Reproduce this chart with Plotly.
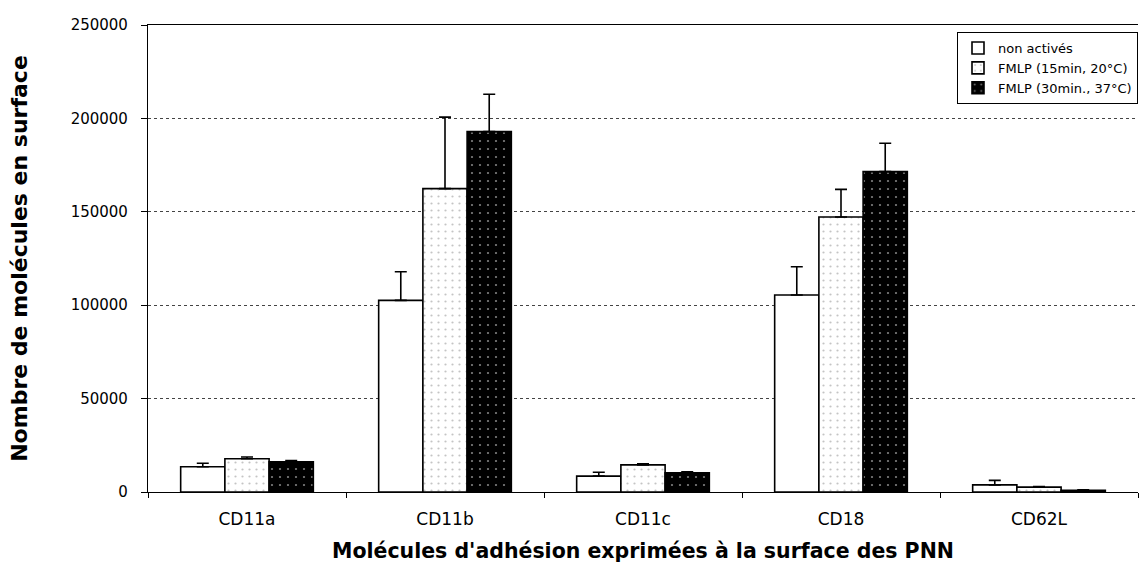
import plotly.graph_objects as go

# Adhesion molecules measured on the PNN surface
categories = ["CD11a", "CD11b", "CD11c", "CD18", "CD62L"]

series_names = ["non activés", "FMLP (15min, 20°C)", "FMLP (30min., 37°C)"]

non_actives = [13500, 102600, 8500, 105500, 3800]
non_actives_err = [1900, 15300, 2100, 15100, 2400]

fmlp_15 = [17800, 162400, 14500, 147200, 2600]
fmlp_15_err = [900, 38300, 600, 14800, 300]

fmlp_30 = [16200, 192900, 10300, 171500, 900]
fmlp_30_err = [600, 20000, 500, 15200, 300]

y_ticks = [0, 50000, 100000, 150000, 200000, 250000]

FONT = "DejaVu Sans"


def err(values):
    return dict(type="data", symmetric=False, array=values,
                arrayminus=[0] * len(values), color="black",
                thickness=1.6, width=6)


fig = go.Figure()

fig.add_trace(go.Bar(
    name=series_names[0], x=categories, y=non_actives,
    marker=dict(color="white", line=dict(color="black", width=1.6)),
    error_y=err(non_actives_err),
))

fig.add_trace(go.Bar(
    name=series_names[1], x=categories, y=fmlp_15,
    marker=dict(color="white", line=dict(color="black", width=1.6),
                pattern=dict(shape=".", fgcolor="#8a8a8a", bgcolor="white",
                             size=7, solidity=0.08)),
    error_y=err(fmlp_15_err),
))

fig.add_trace(go.Bar(
    name=series_names[2], x=categories, y=fmlp_30,
    marker=dict(color="black", line=dict(color="black", width=1.6),
                pattern=dict(shape=".", fgcolor="white", bgcolor="black",
                             size=8, solidity=0.06)),
    error_y=err(fmlp_30_err),
))

fig.update_layout(
    width=1140, height=563,
    margin=dict(l=148, r=2, t=25, b=71),
    paper_bgcolor="white", plot_bgcolor="white",
    barmode="group", bargap=0.33, bargroupgap=0,
    font=dict(family=FONT, size=14, color="black"),
    showlegend=True,
    legend=dict(
        x=1.0, y=0.985, xanchor="right", yanchor="top",
        bgcolor="white", bordercolor="black", borderwidth=1,
        font=dict(family=FONT, size=13, color="black"),
        itemwidth=30, tracegroupgap=0,
    ),
    xaxis=dict(
        showline=True, linecolor="black", linewidth=1.2, mirror=True,
        ticks="outside", tickson="boundaries", ticklen=5,
        tickcolor="black", tickwidth=1,
        tickfont=dict(family=FONT, size=17, color="black"),
        ticklabelstandoff=11,
        showgrid=False, automargin=False,
        title=dict(text="Molécules d'adhésion exprimées à la surface des PNN",
                   font=dict(family=FONT, size=20.5, color="black",
                             weight="bold"),
                   standoff=16),
    ),
    yaxis=dict(
        range=[0, 250000], tickvals=y_ticks, tickformat="d",
        showline=True, linecolor="black", linewidth=1.2,
        ticks="outside", ticklen=6, tickcolor="black", tickwidth=1,
        tickfont=dict(family=FONT, size=15, color="black"),
        ticklabelstandoff=10,
        showgrid=True, gridcolor="#444444", gridwidth=1, griddash="dot",
        zeroline=False, automargin=False,
        title=dict(text="Nombre de molécules en surface",
                   font=dict(family=FONT, size=22, color="black",
                             weight="bold"),
                   standoff=36),
    ),
)

fig.write_html("out.html")
